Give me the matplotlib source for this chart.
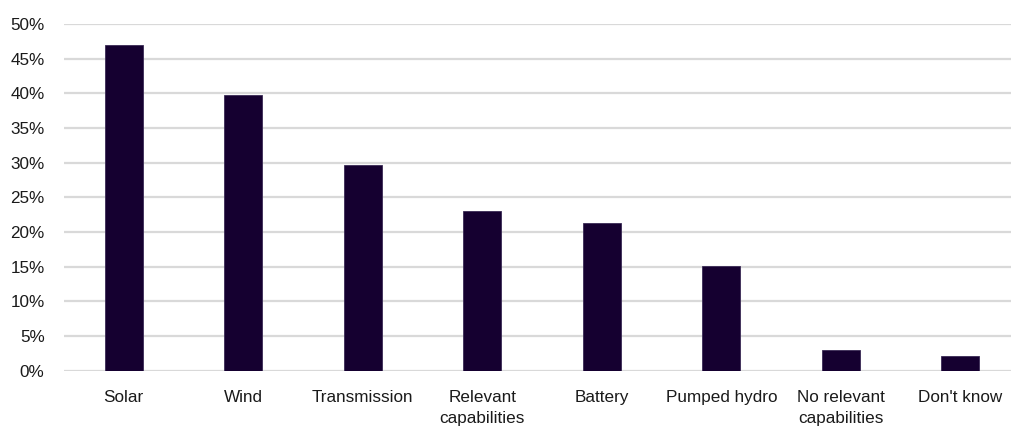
import matplotlib
matplotlib.use("Agg")
import matplotlib.pyplot as plt
from matplotlib.ticker import FuncFormatter, MultipleLocator

categories = ["Solar", "Wind", "Transmission", "Relevant\ncapabilities", "Battery",
              "Pumped hydro", "No relevant\ncapabilities", "Don't know"]
shares = [46.9, 39.8, 29.7, 23.0, 21.3, 15.1, 3.0, 2.1]

plt.rcParams["font.family"] = ["Liberation Sans", "DejaVu Sans"]

fig = plt.figure(figsize=(10.11, 4.30), dpi=100)
# axes spans past the right edge so the last category sits at the border
ax = fig.add_axes([64 / 1011, 59.3 / 430, 956 / 1011, 346.7 / 430])

x = range(len(categories))
ax.bar(x, shares, width=0.32, color="#150030", edgecolor="#3a2a55", linewidth=0.6, zorder=3)

ax.set_xlim(-0.5, 7.5)
ax.set_ylim(0, 50)
ax.yaxis.set_major_locator(MultipleLocator(5))
ax.yaxis.set_major_formatter(FuncFormatter(lambda v, _: f"{v:.0f}%"))
ax.grid(axis="y", color="#d9d9d9", linewidth=1.6, zorder=0)
ax.set_axisbelow(True)

ax.set_xticks(list(x))
ax.set_xticklabels(categories, linespacing=1.45)
for side in ("top", "right", "left", "bottom"):
    ax.spines[side].set_visible(False)
ax.tick_params(axis="both", length=0, labelsize=12.3, colors="#1a1a1a")
ax.tick_params(axis="y", pad=14)
ax.tick_params(axis="x", pad=14)

fig.savefig("out.png", dpi=100)
